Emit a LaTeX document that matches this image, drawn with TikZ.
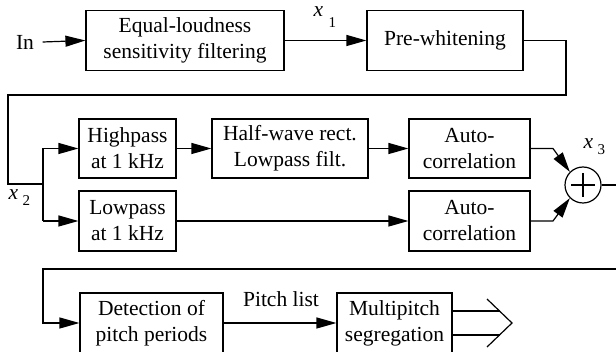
\documentclass[tikz,border=0pt]{standalone}
\usepackage{fontspec}
\setmainfont{Liberation Serif}
\newfontfamily\tnr{Liberation Serif}
\usetikzlibrary{arrows.meta}
\begin{document}
\begin{tikzpicture}[x=1pt,y=-1pt,
  line width=1.2pt,
  every node/.style={font=\tnr\fontsize{21.5}{26}\selectfont},
  blk/.style={draw,line width=1.2pt,align=center,inner sep=0pt,minimum height=60pt},
  arr/.style={-{Triangle[length=20pt,width=11pt]}},
  lbl/.style={anchor=base west,inner sep=0pt},
  sub/.style={anchor=base west,inner sep=0pt,font=\tnr\fontsize{15}{15}\selectfont}]
\useasboundingbox (0,0) rectangle (616,352);
% blocks
\node[blk,minimum width=198pt] (eql) at (185,40.5) {Equal-loudness\\sensitivity filtering};
\node[blk,minimum width=156pt] (prew) at (445,40.5) {Pre-whitening};
\node[blk,minimum width=97pt,minimum height=59pt] (hp) at (127.5,148.5) {Highpass\\at 1 kHz};
\node[blk,minimum width=156pt,minimum height=59pt] (hw) at (290,148.5) {Half-wave rect.\\Lowpass filt.};
\node[blk,minimum width=121pt,minimum height=59pt] (ac1) at (469.5,148.5) {Auto-\\correlation};
\node[blk,minimum width=97pt] (lp) at (127.5,221) {Lowpass\\at 1 kHz};
\node[blk,minimum width=121pt] (ac2) at (469.5,221) {Auto-\\correlation};
\node[draw,circle,minimum size=36pt,inner sep=0pt] (sum) at (583,185) {};
\draw (sum.center) ++(-12,0) -- ++(24,0);
\draw (sum.center) ++(0,-12) -- ++(0,24);
\node[blk,minimum width=143pt] (det) at (151.5,323) {Detection of\\pitch periods};
\node[blk,minimum width=115pt] (mp) at (394.5,323) {Multipitch\\segregation};
% labels
\node[inner sep=0pt] (in) at (25,42) {In};
\node[lbl] (x1) at (313,17) {\textit{x}};
\node[sub] (s1) at (328,28) {1};
\node[lbl] (x2) at (8,200) {\textit{x}};
\node[sub] (s2) at (22,206) {2};
\node[lbl] (x3) at (583,149) {\textit{x}};
\node[sub] (s3) at (597,155) {3};
\node[inner sep=0pt] (pl) at (281,299) {Pitch list};
% coordinates
\coordinate (w1) at (566,40.5);
\coordinate (w2) at (566,95);
\coordinate (w3) at (8,95);
\coordinate (w4) at (8,184);
\coordinate (br) at (43,184);
\coordinate (bt) at (43,148.5);
\coordinate (bb) at (43,221);
\coordinate (k1) at (553,148.5);
\coordinate (k2) at (553,221);
\coordinate (o1) at (616,185);
\coordinate (r1) at (616,269);
\coordinate (r2) at (43,269);
\coordinate (r3) at (43,323);
\coordinate (c1) at (487,299);
\coordinate (c2) at (512,323);
\coordinate (c3) at (487,347);
\coordinate (e1) at (499.5,311);
\coordinate (e2) at (500,335);
% connectors
\draw[arr] ([xshift=8pt]in.east) -- (eql.west);
\draw[arr] (eql.east) -- (prew.west);
\draw (prew.east) -- (w1) -- (w2) -- (w3) -- (w4) -- (br);
\draw (bt) -- (bb);
\draw[arr] (bt) -- (hp.west);
\draw[arr] (bb) -- (lp.west);
\draw[arr] (hp.east) -- (hw.west);
\draw[arr] (hw.east) -- (ac1.west);
\draw[arr] (lp.east) -- (ac2.west);
\draw[arr] (ac1.east) -- (k1) -- (sum.135);
\draw[arr] (ac2.east) -- (k2) -- (sum.225);
\draw (sum.east) -- (o1);
\draw[arr] (r1) -- (r2) -- (r3) -- (det.west);
\draw[arr] (det.east) -- (mp.west);
\draw (mp.east |- e1) -- (e1);
\draw (mp.east |- e2) -- (e2);
\draw (c1) -- (c2) -- (c3);
\end{tikzpicture}
\end{document}
